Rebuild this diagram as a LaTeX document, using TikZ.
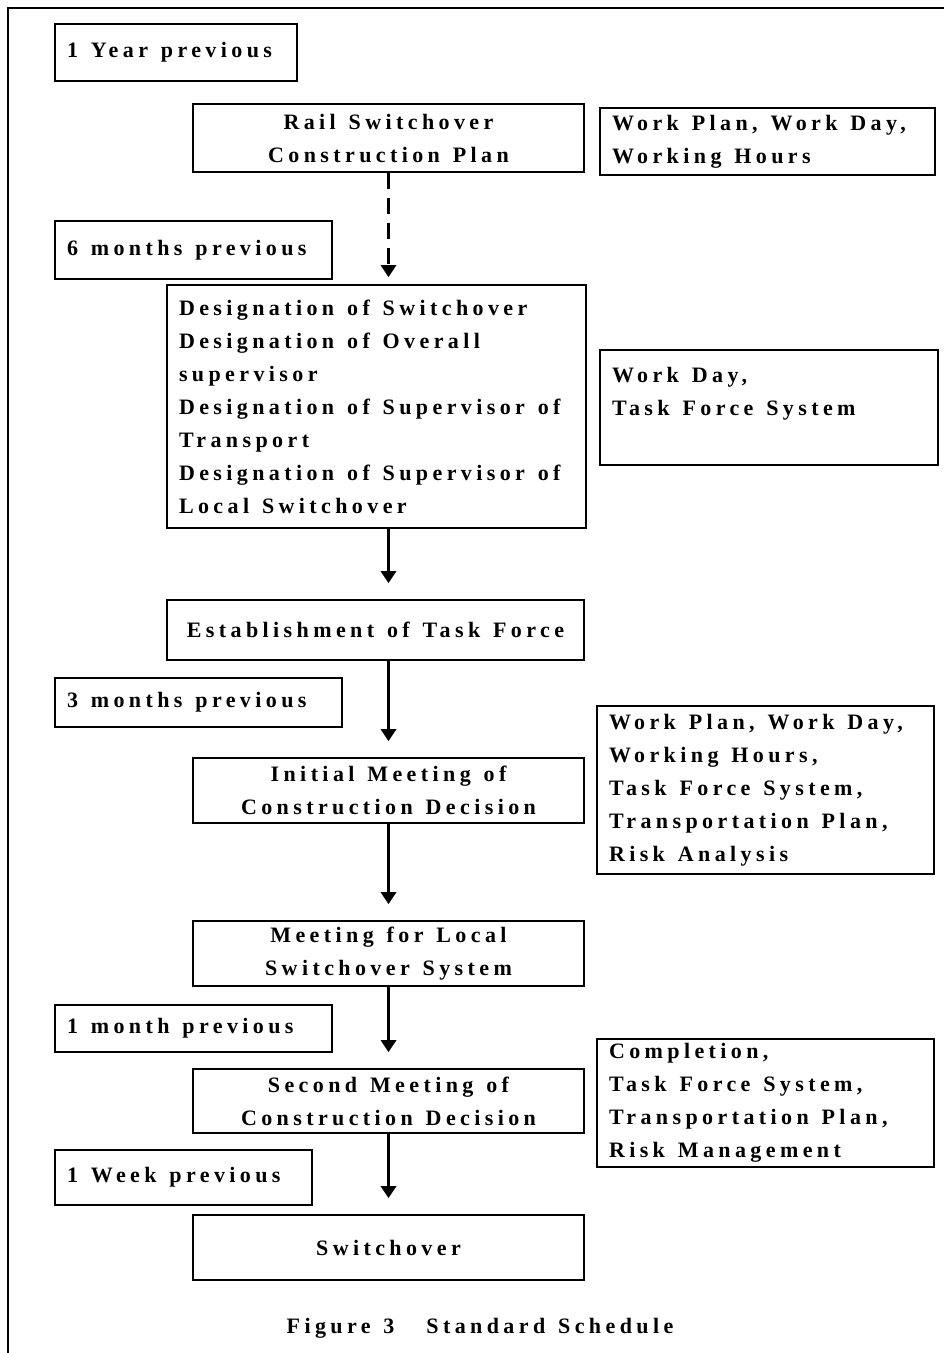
\documentclass[tikz,border=0pt]{standalone}
\usepackage{fontspec}
\usetikzlibrary{arrows.meta}
\newfontfamily\schedfont{Liberation Serif}[LetterSpace=20,WordSpace=1.3]

\tikzset{
  box/.style={draw, line width=1.6pt, inner sep=0pt, font=\schedfont\bfseries\fontsize{22}{33}\selectfont},
  stepbox/.style={box, align=center},
  timebox/.style={box, align=flush left, text width=#1},
  notebox/.style={box, align=flush left, text width=#1},
  flow/.style={line width=3.6pt, -{Triangle[length=12pt,width=15pt]}, shorten >=16pt}
}

\begin{document}
\begin{tikzpicture}[x=1pt,y=-1pt]
        \useasboundingbox (0,0) rectangle (944,1353);
        % Outer frame
        \draw[line width=1.6pt] (8,1370) -- (8,8) -- (960,8);

        % Time marks
        \node[timebox=218pt, minimum width=242pt, minimum height=57pt] (year1) at (176,52.5) {1 Year previous};
        \node[timebox=253pt, minimum width=277pt, minimum height=58pt] (month6) at (193.5,250) {6 months previous};
        \node[timebox=263pt, minimum width=287pt, minimum height=49pt] (month3) at (198.5,702.5) {3 months previous};
        \node[timebox=253pt, minimum width=277pt, minimum height=47pt] (month1) at (193.5,1028.5) {1 month previous};
        \node[timebox=233pt, minimum width=257pt, minimum height=55pt] (week1) at (183.5,1177.5) {1 Week previous};

        % Steps
        \node[stepbox, minimum width=391pt, minimum height=68pt] (rail) at (388.5,138) {Rail Switchover\\Construction Plan};
        \node[box, align=flush left, text width=395pt, minimum width=419pt, minimum height=243pt] (desig) at (376.5,406.5)
          {Designation of Switchover\\Designation of Overall\\supervisor\\Designation of Supervisor of\\Transport\\Designation of Supervisor of\\Local Switchover};
        \node[stepbox, minimum width=417pt, minimum height=60pt] (task) at (375.5,630) {Establishment of Task Force};
        \node[stepbox, minimum width=391pt, minimum height=65pt] (init) at (388.5,790.5) {Initial Meeting of\\Construction Decision};
        \node[stepbox, minimum width=391pt, minimum height=65pt] (local) at (388.5,953.5) {Meeting for Local\\Switchover System};
        \node[stepbox, minimum width=391pt, minimum height=64pt] (second) at (388.5,1101) {Second Meeting of\\Construction Decision};
        \node[stepbox, minimum width=391pt, minimum height=65pt] (switch) at (388.5,1247.5) {Switchover};

        % Notes
        \node[notebox=311pt, minimum width=335pt, minimum height=67pt] (note1) at (767.5,141.5) {Work Plan, Work Day,\\Working Hours};
        \node[notebox=314pt, minimum width=338pt, minimum height=115pt] (note2) at (769,407.5) {Work Day,\\Task Force System\\\mbox{}};
        \node[notebox=313pt, minimum width=337pt, minimum height=168pt] (note3) at (765.5,790) {Work Plan, Work Day,\\Working Hours,\\Task Force System,\\Transportation Plan,\\Risk Analysis};
        \node[notebox=313pt, minimum width=337pt, minimum height=128pt] (note4) at (765.5,1103) {Completion,\\Task Force System,\\Transportation Plan,\\Risk Management};

        % Arrows
        \draw[flow, dash pattern=on 16pt off 9pt, shorten >=7pt] (rail.south) -- (rail.south |- desig.north);
        \foreach \a/\b in {desig/task, task/init, init/local, local/second, second/switch}{
            \draw[flow] (\a.south -| rail) -- (\b.north -| rail);
        }

        % Caption
        \node[font=\schedfont\bfseries\fontsize{22}{33}\selectfont] (caption) at (480,1328) {Figure 3\hspace{32pt}Standard Schedule};
\end{tikzpicture}
\end{document}
